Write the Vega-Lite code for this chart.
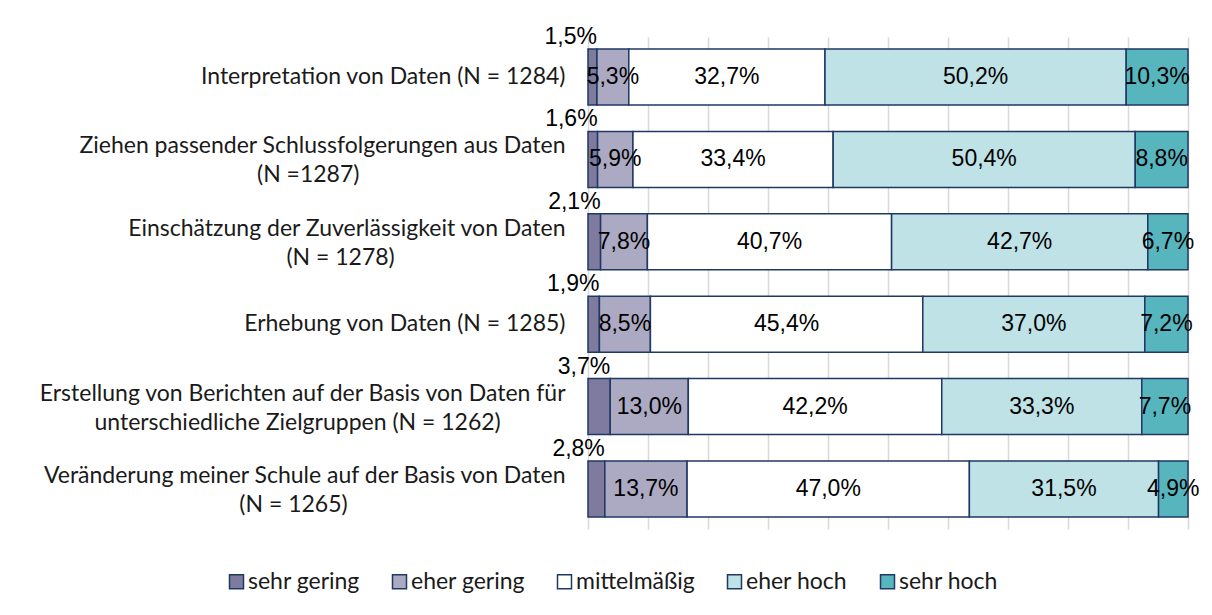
{
  "$schema": "https://vega.github.io/schema/vega-lite/v6.json",
  "width": 600,
  "height": 492,
  "autosize": {"type": "none"},
  "padding": {"left": 588, "top": 37, "right": 24, "bottom": 86},
  "background": "white",
  "config": {
    "view": {"stroke": null},
    "locale": {"number": {"decimal": ",", "thousands": ".", "grouping": [3], "currency": ["", " €"]}}
  },
  "data": {
    "values": [
      {"item": "Interpretation von Daten (N = 1284)", "level": "sehr gering", "ord": 1, "p": 0.015},
      {"item": "Interpretation von Daten (N = 1284)", "level": "eher gering", "ord": 2, "p": 0.053},
      {"item": "Interpretation von Daten (N = 1284)", "level": "mittelmäßig", "ord": 3, "p": 0.327},
      {"item": "Interpretation von Daten (N = 1284)", "level": "eher hoch", "ord": 4, "p": 0.502},
      {"item": "Interpretation von Daten (N = 1284)", "level": "sehr hoch", "ord": 5, "p": 0.103},
      {"item": "Ziehen passender Schlussfolgerungen aus Daten|(N =1287)", "level": "sehr gering", "ord": 1, "p": 0.016},
      {"item": "Ziehen passender Schlussfolgerungen aus Daten|(N =1287)", "level": "eher gering", "ord": 2, "p": 0.059},
      {"item": "Ziehen passender Schlussfolgerungen aus Daten|(N =1287)", "level": "mittelmäßig", "ord": 3, "p": 0.334},
      {"item": "Ziehen passender Schlussfolgerungen aus Daten|(N =1287)", "level": "eher hoch", "ord": 4, "p": 0.504},
      {"item": "Ziehen passender Schlussfolgerungen aus Daten|(N =1287)", "level": "sehr hoch", "ord": 5, "p": 0.088},
      {"item": "Einschätzung der Zuverlässigkeit von Daten|(N = 1278)", "level": "sehr gering", "ord": 1, "p": 0.021},
      {"item": "Einschätzung der Zuverlässigkeit von Daten|(N = 1278)", "level": "eher gering", "ord": 2, "p": 0.078},
      {"item": "Einschätzung der Zuverlässigkeit von Daten|(N = 1278)", "level": "mittelmäßig", "ord": 3, "p": 0.407},
      {"item": "Einschätzung der Zuverlässigkeit von Daten|(N = 1278)", "level": "eher hoch", "ord": 4, "p": 0.427},
      {"item": "Einschätzung der Zuverlässigkeit von Daten|(N = 1278)", "level": "sehr hoch", "ord": 5, "p": 0.067},
      {"item": "Erhebung von Daten (N = 1285)", "level": "sehr gering", "ord": 1, "p": 0.019},
      {"item": "Erhebung von Daten (N = 1285)", "level": "eher gering", "ord": 2, "p": 0.085},
      {"item": "Erhebung von Daten (N = 1285)", "level": "mittelmäßig", "ord": 3, "p": 0.454},
      {"item": "Erhebung von Daten (N = 1285)", "level": "eher hoch", "ord": 4, "p": 0.370},
      {"item": "Erhebung von Daten (N = 1285)", "level": "sehr hoch", "ord": 5, "p": 0.072},
      {"item": "Erstellung von Berichten auf der Basis von Daten für|unterschiedliche Zielgruppen (N = 1262)", "level": "sehr gering", "ord": 1, "p": 0.037},
      {"item": "Erstellung von Berichten auf der Basis von Daten für|unterschiedliche Zielgruppen (N = 1262)", "level": "eher gering", "ord": 2, "p": 0.130},
      {"item": "Erstellung von Berichten auf der Basis von Daten für|unterschiedliche Zielgruppen (N = 1262)", "level": "mittelmäßig", "ord": 3, "p": 0.422},
      {"item": "Erstellung von Berichten auf der Basis von Daten für|unterschiedliche Zielgruppen (N = 1262)", "level": "eher hoch", "ord": 4, "p": 0.333},
      {"item": "Erstellung von Berichten auf der Basis von Daten für|unterschiedliche Zielgruppen (N = 1262)", "level": "sehr hoch", "ord": 5, "p": 0.077},
      {"item": "Veränderung meiner Schule auf der Basis von Daten|(N = 1265)", "level": "sehr gering", "ord": 1, "p": 0.028},
      {"item": "Veränderung meiner Schule auf der Basis von Daten|(N = 1265)", "level": "eher gering", "ord": 2, "p": 0.137},
      {"item": "Veränderung meiner Schule auf der Basis von Daten|(N = 1265)", "level": "mittelmäßig", "ord": 3, "p": 0.470},
      {"item": "Veränderung meiner Schule auf der Basis von Daten|(N = 1265)", "level": "eher hoch", "ord": 4, "p": 0.315},
      {"item": "Veränderung meiner Schule auf der Basis von Daten|(N = 1265)", "level": "sehr hoch", "ord": 5, "p": 0.049}
    ]
  },
  "encoding": {
    "y": {
      "field": "item",
      "type": "nominal",
      "sort": null,
      "scale": {"paddingInner": 0.32, "paddingOuter": 0.146},
      "axis": {
        "title": null,
        "domain": false,
        "ticks": false,
        "labelFont": "Lato",
        "labelFontSize": 23,
        "labelColor": "#1a1a1a",
        "labelPadding": 23,
        "labelLimit": 700,
        "labelLineHeight": 29,
        "labelOffset": {"condition": {"test": "indexof(datum.value,'|')>=0", "value": -13}, "value": 0},
        "labelExpr": "indexof(datum.label,'|')<0 ? datum.label : [split(datum.label,'|')[0], pad(split(datum.label,'|')[1], length(split(datum.label,'|')[1]) + (indexof(datum.label,'Ziehen')==0 ? 35 : indexof(datum.label,'Einsch')==0 ? 29 : indexof(datum.label,'Erstell')==0 ? 11 : 37), '\u00a0') + '\u200b']"
      }
    }
  },
  "layer": [
    {
      "mark": {"type": "bar", "stroke": "#1F3864", "strokeWidth": 1.5},
      "encoding": {
        "x": {
          "field": "p",
          "type": "quantitative",
          "stack": "normalize",
          "scale": {"domain": [0, 1], "nice": false},
          "axis": {
            "title": null,
            "labels": false,
            "domain": false,
            "ticks": false,
            "grid": true,
            "values": [0, 0.1, 0.2, 0.3, 0.4, 0.5, 0.6, 0.7, 0.8, 0.9, 1],
            "gridColor": "#d9d9d9",
            "gridWidth": 1.5
          }
        },
        "color": {
          "field": "level",
          "type": "nominal",
          "sort": ["sehr gering", "eher gering", "mittelmäßig", "eher hoch", "sehr hoch"],
          "scale": {
            "domain": ["sehr gering", "eher gering", "mittelmäßig", "eher hoch", "sehr hoch"],
            "range": ["#7E7B9E", "#ACA9C2", "#FFFFFF", "#BEE2E6", "#57B5BD"]
          },
          "legend": {
            "title": null,
            "orient": "none",
            "legendX": -363,
            "legendY": 533,
            "direction": "horizontal",
            "symbolType": "square",
            "symbolSize": 196,
            "symbolStrokeColor": "#1F3864",
            "symbolStrokeWidth": 1.5,
            "labelFont": "Lato",
            "labelFontSize": 23,
            "labelColor": "#1a1a1a",
            "labelOffset": 0,
            "columnPadding": 28,
            "padding": 0,
            "labelLimit": 300
          }
        },
        "order": {"field": "ord", "type": "quantitative"}
      }
    },
    {
      "mark": {"type": "text", "font": "Liberation Sans", "fontSize": 23, "fill": "#000000", "baseline": "middle"},
      "encoding": {
        "x": {"field": "p", "type": "quantitative", "stack": "normalize", "bandPosition": 0.5},
        "detail": {"field": "level"},
        "order": {"field": "ord", "type": "quantitative"},
        "text": {"field": "p", "type": "quantitative", "format": ".1%", "condition": {"test": "datum.ord == 1", "value": ""}}
      }
    },
    {
      "mark": {"type": "text", "font": "Liberation Sans", "fontSize": 23, "fill": "#000000", "align": "right", "baseline": "middle", "dy": -40},
      "encoding": {
        "x": {"field": "p", "type": "quantitative", "stack": "normalize"},
        "detail": {"field": "level"},
        "order": {"field": "ord", "type": "quantitative"},
        "text": {"field": "p", "type": "quantitative", "format": ".1%", "condition": {"test": "datum.ord != 1", "value": ""}}
      }
    }
  ]
}
